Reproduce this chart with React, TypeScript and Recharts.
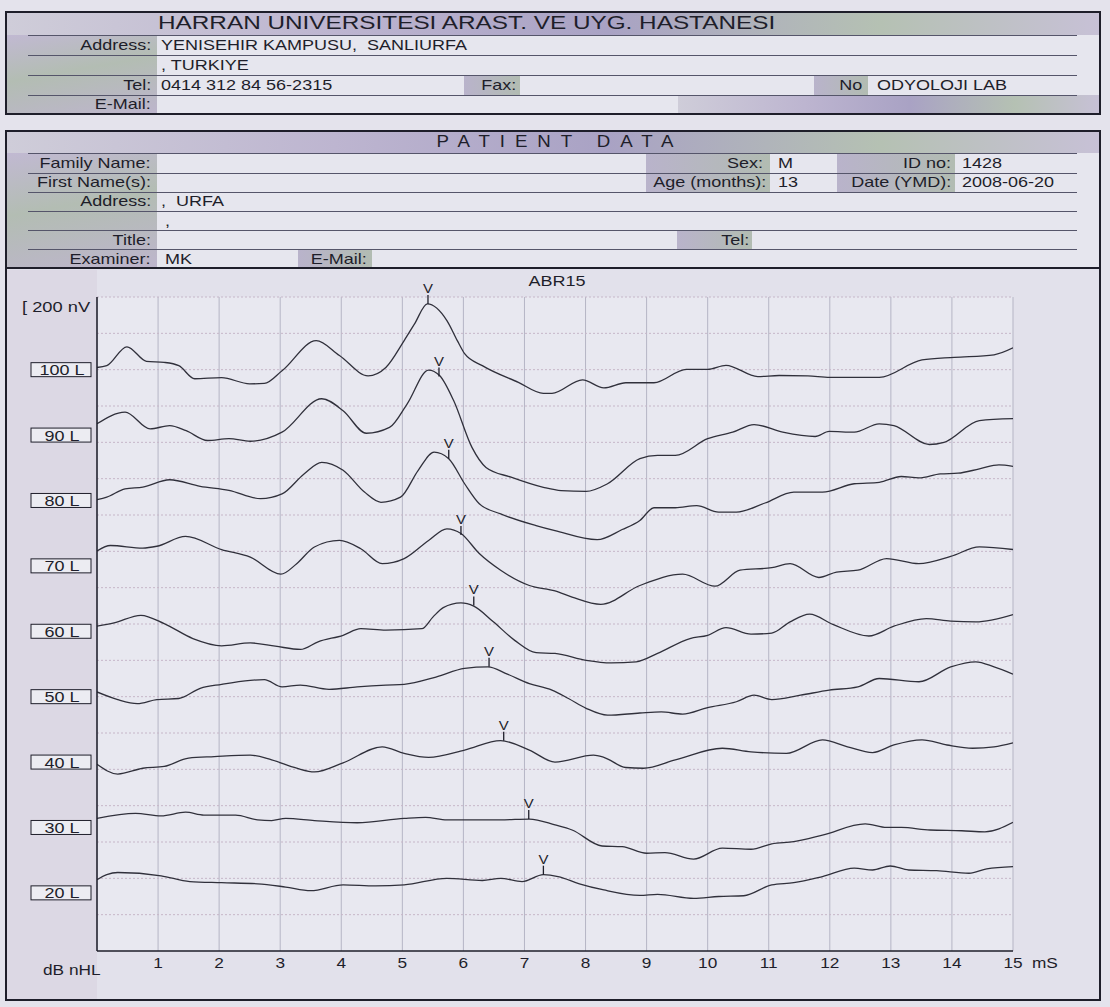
import React from 'react';
import { ComposedChart, Line, Scatter, XAxis, YAxis, CartesianGrid, ReferenceLine } from 'recharts';

const INK = '#1e1e2a';
const TRACE = '#30303b';
const FONT = '"Liberation Sans", Arial, Helvetica, sans-serif';
const PAPER = '#e4e3ec';
const FIELD = '#e6e6ee';
const LABEL_BG = 'linear-gradient(170deg, #c1b9d2 0%, #b3bdb3 45%, #bdb5cc 100%)';
const CELL_BG = 'linear-gradient(90deg, #b9b3cb 0%, #b2bcb2 100%)';
const BAND_BG =
  'linear-gradient(90deg, #cfcdd9 0%, #bdb5d0 30%, #a9a2c4 55%, #b5c1b3 80%, #c7c1d6 100%)';

// stimulus levels in dB nHL, top trace first
const levels = [100, 90, 80, 70, 60, 50, 40, 30, 20];

// waveforms: [latency ms, amplitude nV] measured from each trace's label line
const abr100: [number, number][] = [
  [0, 6], [0.16, 11], [0.49, 63], [0.81, 23], [1.1, 20], [1.34, 11], [1.6, -25], [2.04, -22],
  [2.5, -39], [2.74, -38], [3.03, -3], [3.59, 80], [3.97, 39], [4.44, -17], [4.73, 6], [5.03, 80],
  [5.2, 126], [5.41, 181], [5.73, 135], [5.9, 80], [6.02, 44], [6.31, 11], [6.9, -35], [7.31, -65],
  [7.45, -65], [7.95, -28], [8.3, -50], [8.66, -36], [9.12, -36], [9.65, 1], [10.0, 1], [10.3, 12],
  [10.82, -19], [11.17, -16], [11.64, -17], [12.0, -21], [12.46, -21], [12.81, -21], [13.51, 27],
  [14.04, 34], [14.69, 41], [15, 60],
];
const abr90: [number, number][] = [
  [0, 31], [0.46, 63], [0.87, 17], [1.19, 26], [1.46, 12], [1.81, -15], [2.16, -10], [2.51, -17],
  [3.03, 8], [3.68, 100], [4.03, 67], [4.41, 5], [4.79, 21], [5.08, 86], [5.43, 179], [5.61, 164],
  [5.84, 95], [6.14, -34], [6.37, -89], [6.78, -116], [7.31, -144], [7.6, -153], [8.01, -155],
  [8.36, -134], [8.89, -65], [9.18, -56], [9.47, -56], [10.0, -10], [10.41, 8], [10.76, 29],
  [11.23, 8], [11.76, -4], [11.99, 10], [12.4, 8], [12.81, 31], [13.05, 26], [13.63, -26],
  [13.87, -20], [14.45, 40], [15, 45],
];
const abr80: [number, number][] = [
  [0, 2], [0.16, 9], [0.46, 32], [0.75, 37], [1.19, 57], [1.69, 39], [2.16, 28], [2.68, 5],
  [3.03, 18], [3.39, 73], [3.68, 105], [4.03, 83], [4.38, 23], [4.65, -5], [4.97, 9], [5.26, 83],
  [5.52, 133], [5.76, 115], [6.02, 46], [6.26, -9], [6.61, -37], [7.19, -69], [7.5, -83],
  [8.19, -108], [8.6, -80], [8.89, -55], [9.12, -20], [9.47, -20], [9.82, -14], [10.18, -32],
  [10.47, -32], [10.94, -7], [11.41, 23], [11.88, 23], [12.4, 46], [12.81, 50], [13.17, 66],
  [13.46, 62], [13.81, 73], [14.1, 75], [14.45, 87], [14.77, 98], [15, 94],
];
const abr70: [number, number][] = [
  [0, 41], [0.22, 56], [0.75, 49], [0.98, 54], [1.45, 81], [2.04, 45], [2.51, 24], [3.01, -23],
  [3.27, 6], [3.56, 52], [3.97, 70], [4.32, 47], [4.67, 6], [5.03, 20], [5.43, 70], [5.73, 102],
  [5.96, 89], [6.26, 34], [6.61, -12], [7.08, -54], [7.5, -69], [7.78, -86], [8.25, -106],
  [8.89, -54], [9.59, -23], [10.12, -56], [10.53, -12], [11.05, -5], [11.35, 6], [11.82, -32],
  [12.11, -17], [12.46, -12], [12.93, 20], [13.46, 6], [13.98, 26], [14.45, 52], [15, 45],
];
const abr60: [number, number][] = [
  [0, 14], [0.28, 23], [0.72, 44], [1.1, 21], [1.57, -20], [2.04, -40], [2.51, -32], [2.92, -41],
  [3.33, -50], [3.62, -29], [4.03, -11], [4.32, 7], [4.73, 3], [5.32, 7], [5.5, 39], [5.67, 65],
  [5.96, 78], [6.17, 69], [6.49, 26], [6.84, -25], [7.19, -59], [7.5, -61], [8.01, -80],
  [8.42, -87], [8.83, -84], [9.18, -61], [9.71, -20], [10.0, -11], [10.3, 10], [10.71, -8],
  [11.05, -5], [11.35, 26], [11.67, 47], [12.05, 19], [12.64, -13], [13.05, 14], [13.58, 35],
  [13.98, 28], [14.39, 26], [15, 46],
];
const abr50: [number, number][] = [
  [0, 13], [0.34, -8], [0.66, -19], [0.98, -8], [1.34, -5], [1.69, 23], [2.04, 34], [2.51, 45],
  [2.74, 47], [3.03, 27], [3.33, 32], [3.8, 20], [4.26, 27], [4.73, 32], [5.03, 34], [5.55, 54],
  [6.02, 78], [6.4, 82], [6.72, 62], [7.08, 36], [7.45, 18], [7.72, -5], [8.01, -32], [8.36, -51],
  [8.89, -45], [9.24, -42], [9.59, -48], [10.0, -30], [10.47, -14], [10.76, 4], [11.05, -8],
  [11.52, 4], [11.99, 18], [12.46, 27], [12.81, 50], [13.46, 41], [13.98, 82], [14.39, 96],
  [14.69, 82], [15, 62],
];
const abr40: [number, number][] = [
  [0, -6], [0.34, -33], [0.75, -17], [1.1, -12], [1.5, 11], [1.92, 15], [2.51, 19], [2.86, 6],
  [3.27, -17], [3.56, -27], [4.03, -2], [4.67, 42], [5.03, 24], [5.43, 13], [6.02, 33], [6.61, 59],
  [7.08, 33], [7.5, 0], [8.13, 19], [8.3, 13], [8.66, -15], [8.95, -17], [9.47, 6], [10.24, 38],
  [10.71, 28], [11.29, 24], [11.88, 61], [12.29, 42], [12.7, 26], [13.05, 47], [13.51, 61],
  [13.92, 47], [14.34, 38], [14.69, 42], [15, 53],
];
const abr30: [number, number][] = [
  [0, 25], [0.63, 39], [1.05, 32], [1.45, 42], [1.75, 34], [2.27, 34], [2.63, 21], [2.86, 19],
  [3.09, 25], [3.56, 19], [4.26, 13], [5.03, 25], [5.38, 28], [5.73, 21], [6.61, 21], [7.08, 23],
  [7.5, 7], [7.78, -7], [8.27, -51], [8.6, -53], [9.0, -71], [9.3, -69], [9.77, -87], [10.24, -57],
  [10.71, -60], [11.05, -45], [11.41, -39], [11.88, -21], [12.58, 10], [12.93, 0], [13.17, 0],
  [13.64, -7], [14.16, -9], [14.54, -12], [15, 14],
];
const abr20: [number, number][] = [
  [0, 36], [0.16, 50], [0.34, 56], [1.05, 47], [1.52, 31], [2.04, 28], [2.63, 25], [3.09, 16],
  [3.5, 6], [4.03, 22], [4.56, 19], [5.03, 22], [5.73, 40], [6.31, 34], [6.61, 40], [6.96, 31],
  [7.31, 50], [7.55, 45], [7.9, 25], [8.3, 8], [8.89, -7], [9.18, -4], [9.77, -15], [10.18, -10],
  [10.59, -8], [11.05, 22], [11.41, 28], [11.88, 45], [12.4, 68], [12.7, 63], [12.99, 74],
  [13.29, 63], [13.75, 61], [14.28, 54], [14.57, 66], [15, 72],
];
const traces = [abr100, abr90, abr80, abr70, abr60, abr50, abr40, abr30, abr20];

// wave V picks per level
const waveVLatency = [5.42, 5.6, 5.76, 5.96, 6.17, 6.42, 6.66, 7.07, 7.31];
const waveVAmp = [181, 161, 115, 85, 71, 82, 59, 23, 50];

const timeTicks = [1, 2, 3, 4, 5, 6, 7, 8, 9, 10, 11, 12, 13, 14, 15];

// layout of the stacked traces (nV, one grid row = 100 nV)
const NV_MAX = 1800;
const TOP_OFFSET = 1600;
const TRACE_STEP = 180;
const nvGrid = Array.from({ length: NV_MAX / 100 }, (_, i) => (i + 1) * 100);
const offsets = levels.map((_, i) => TOP_OFFSET - i * TRACE_STEP);
const series = levels.map((lvl, i) => ({
  lvl,
  data: traces[i].map(([t, a]) => ({ t, v: offsets[i] + a })),
}));
const marks = levels.map((_, i) => ({ t: waveVLatency[i], v: offsets[i] + waveVAmp[i] }));

const LevelTick = (props: any) => {
  const { y, payload } = props;
  const i = offsets.indexOf(payload.value);
  if (i < 0) return null;
  return (
    <g>
      <rect x={31} y={y - 7} width={60} height={14} fill="#ececf2" stroke={INK} strokeWidth={1} />
      <text
        transform={`translate(62,${y + 5.5}) scale(1.2,1)`}
        textAnchor="middle"
        fontSize={15}
        fill={INK}
        fontFamily={FONT}
      >
        {`${levels[i]} L`}
      </text>
    </g>
  );
};

const TimeTick = (props: any) => {
  const { x, y, payload } = props;
  const last = payload.value === 15;
  return (
    <g>
      <text
        transform={`translate(${x},${y + 9}) scale(1.15,1)`}
        textAnchor="middle"
        fontSize={15}
        fill={INK}
        fontFamily={FONT}
      >
        {payload.value}
      </text>
      {last && (
        <text
          transform={`translate(${x + 19},${y + 9}) scale(1.15,1)`}
          fontSize={15}
          fill={INK}
          fontFamily={FONT}
        >
          mS
        </text>
      )}
    </g>
  );
};

const VMark = (props: any) => {
  const { cx, cy } = props;
  if (cx == null || cy == null) return null;
  return (
    <g>
      <line x1={cx} x2={cx} y1={cy} y2={cy - 9} stroke={INK} strokeWidth={1.3} />
      <text
        transform={`translate(${cx},${cy - 11}) scale(1.15,1)`}
        textAnchor="middle"
        fontSize={13}
        fill={INK}
        fontFamily={FONT}
      >
        V
      </text>
    </g>
  );
};

const W = 1110;

const Txt = ({
  x,
  y,
  text,
  size = 15,
  align = 'left',
  sx = 1.2,
  ls = 0,
}: {
  x: number;
  y: number;
  text: string;
  size?: number;
  align?: 'left' | 'right' | 'center';
  sx?: number;
  ls?: number;
}) => {
  const style: React.CSSProperties = {
    position: 'absolute',
    top: y - size * 0.6,
    fontSize: size,
    lineHeight: `${size * 1.2}px`,
    whiteSpace: 'pre',
    letterSpacing: ls,
    color: INK,
  };
  if (align === 'left') {
    style.left = x;
    style.transform = `scaleX(${sx})`;
    style.transformOrigin = 'left center';
  } else if (align === 'right') {
    style.right = W - x;
    style.transform = `scaleX(${sx})`;
    style.transformOrigin = 'right center';
  } else {
    style.left = x;
    style.transform = `translateX(-50%) scaleX(${sx})`;
  }
  return <div style={style}>{text}</div>;
};

const Rect = ({ x, y, w, h, bg }: { x: number; y: number; w: number; h: number; bg: string }) => (
  <div style={{ position: 'absolute', left: x, top: y, width: w, height: h, background: bg }} />
);

const HLine = ({ y }: { y: number }) => (
  <div style={{ position: 'absolute', left: 28, top: y, width: 1049, height: 1, background: '#55556a' }} />
);

const Frame = ({ x, y, w, h }: { x: number; y: number; w: number; h: number }) => (
  <div
    style={{
      position: 'absolute',
      left: x,
      top: y,
      width: w,
      height: h,
      border: `2px solid ${INK}`,
      boxSizing: 'border-box',
    }}
  />
);

export default function App() {
  return (
    <div
      style={{
        position: 'relative',
        width: W,
        height: 1007,
        background: PAPER,
        fontFamily: FONT,
        overflow: 'hidden',
      }}
    >
      <style>{'body{margin:0;}'}</style>

      {/* institution block */}
      <Rect x={5} y={11} w={1096} h={104} bg={FIELD} />
      <Rect x={7} y={13} w={1092} h={22} bg={BAND_BG} />
      <Rect x={7} y={35} w={150} h={78} bg={LABEL_BG} />
      <Rect x={464} y={75} w={56} h={20} bg={CELL_BG} />
      <Rect x={814} y={75} w={54} h={20} bg={CELL_BG} />
      <Rect x={678} y={95} w={421} h={18} bg={BAND_BG} />
      {[35, 55, 75, 95].map((y) => (
        <HLine key={y} y={y} />
      ))}
      <Frame x={5} y={11} w={1096} h={104} />
      <Txt x={158} y={23} text="HARRAN UNIVERSITESI ARAST. VE UYG. HASTANESI" size={19} sx={1.28} />
      <Txt x={151} y={45} text="Address:" align="right" />
      <Txt x={161} y={45} text="YENISEHIR KAMPUSU,  SANLIURFA" />
      <Txt x={161} y={65} text=", TURKIYE" />
      <Txt x={151} y={85} text="Tel:" align="right" />
      <Txt x={161} y={85} text="0414 312 84 56-2315" />
      <Txt x={516} y={85} text="Fax:" align="right" />
      <Txt x={862} y={85} text="No" align="right" />
      <Txt x={877} y={85} text="ODYOLOJI LAB" />
      <Txt x={151} y={104} text="E-Mail:" align="right" />

      {/* patient block */}
      <Rect x={5} y={130} w={1096} h={138} bg={FIELD} />
      <Rect x={7} y={132} w={1092} h={21} bg={BAND_BG} />
      <Rect x={7} y={153} w={150} h={114} bg={LABEL_BG} />
      <Rect x={646} y={153} w={124} h={39} bg={CELL_BG} />
      <Rect x={837} y={153} w={118} h={39} bg={CELL_BG} />
      <Rect x={677} y={230} w={75} h={19} bg={CELL_BG} />
      <Rect x={298} y={249} w={74} h={18} bg={CELL_BG} />
      {[153, 173, 192, 211, 230, 249].map((y) => (
        <HLine key={y} y={y} />
      ))}
      <Txt x={560} y={142} text="PATIENT DATA" size={17} sx={1.1} ls={9} align="center" />
      <Txt x={151} y={163} text="Family Name:" align="right" />
      <Txt x={151} y={182} text="First Name(s):" align="right" />
      <Txt x={151} y={201} text="Address:" align="right" />
      <Txt x={161} y={201} text=",  URFA" />
      <Txt x={165} y={221} text="," />
      <Txt x={151} y={240} text="Title:" align="right" />
      <Txt x={151} y={259} text="Examiner:" align="right" />
      <Txt x={165} y={259} text="MK" />
      <Txt x={367} y={259} text="E-Mail:" align="right" />
      <Txt x={763} y={163} text="Sex:" align="right" />
      <Txt x={778} y={163} text="M" />
      <Txt x={766} y={182} text="Age (months):" align="right" />
      <Txt x={778} y={182} text="13" />
      <Txt x={951} y={163} text="ID no:" align="right" />
      <Txt x={962} y={163} text="1428" />
      <Txt x={951} y={182} text="Date (YMD):" align="right" />
      <Txt x={962} y={182} text="2008-06-20" />
      <Txt x={749} y={240} text="Tel:" align="right" />

      {/* chart block */}
      <Rect x={5} y={268} w={1096} h={733} bg="#e2e1eb" />
      <Rect x={7} y={270} w={90} h={729} bg="#dcd8e4" />
      <div style={{ position: 'absolute', left: 0, top: 268 }}>
        <ComposedChart width={1105} height={733} margin={{ top: 29, right: 92, bottom: 20, left: 0 }}>
          <CartesianGrid yAxisId="lvl" horizontal={false} stroke="#b5b5c5" fill="#e8e8f0" />
          {nvGrid.map((v) => (
            <ReferenceLine
              key={v}
              yAxisId="lvl"
              y={v}
              stroke="#c6b6c8"
              strokeDasharray="2 2"
            />
          ))}
          <XAxis
            dataKey="t"
            type="number"
            domain={[0, 15]}
            ticks={timeTicks}
            interval={0}
            tick={<TimeTick />}
            tickLine={false}
            axisLine={{ stroke: INK, strokeWidth: 1.5 }}
            height={30}
            allowDataOverflow
          />
          <YAxis
            yAxisId="lvl"
            type="number"
            domain={[0, NV_MAX]}
            ticks={offsets}
            interval={0}
            tick={<LevelTick />}
            tickLine={false}
            axisLine={{ stroke: INK, strokeWidth: 1.5 }}
            width={97}
          />
          {series.map((s) => (
            <Line
              key={s.lvl}
              yAxisId="lvl"
              data={s.data}
              dataKey="v"
              type="monotone"
              stroke={TRACE}
              strokeWidth={1.3}
              dot={false}
              activeDot={false}
              isAnimationActive={false}
            />
          ))}
          <Scatter yAxisId="lvl" data={marks} dataKey="v" shape={VMark} isAnimationActive={false} />
        </ComposedChart>
      </div>
      <Txt x={557} y={281} text="ABR15" size={15} sx={1.2} align="center" />
      <Txt x={22} y={307} text="[ 200 nV" size={15} sx={1.22} />
      <Txt x={43} y={970} text="dB nHL" size={15} sx={1.15} />
      <Frame x={5} y={130} w={1096} h={871} />
      <div style={{ position: 'absolute', left: 5, top: 267, width: 1096, height: 2, background: INK }} />
    </div>
  );
}
